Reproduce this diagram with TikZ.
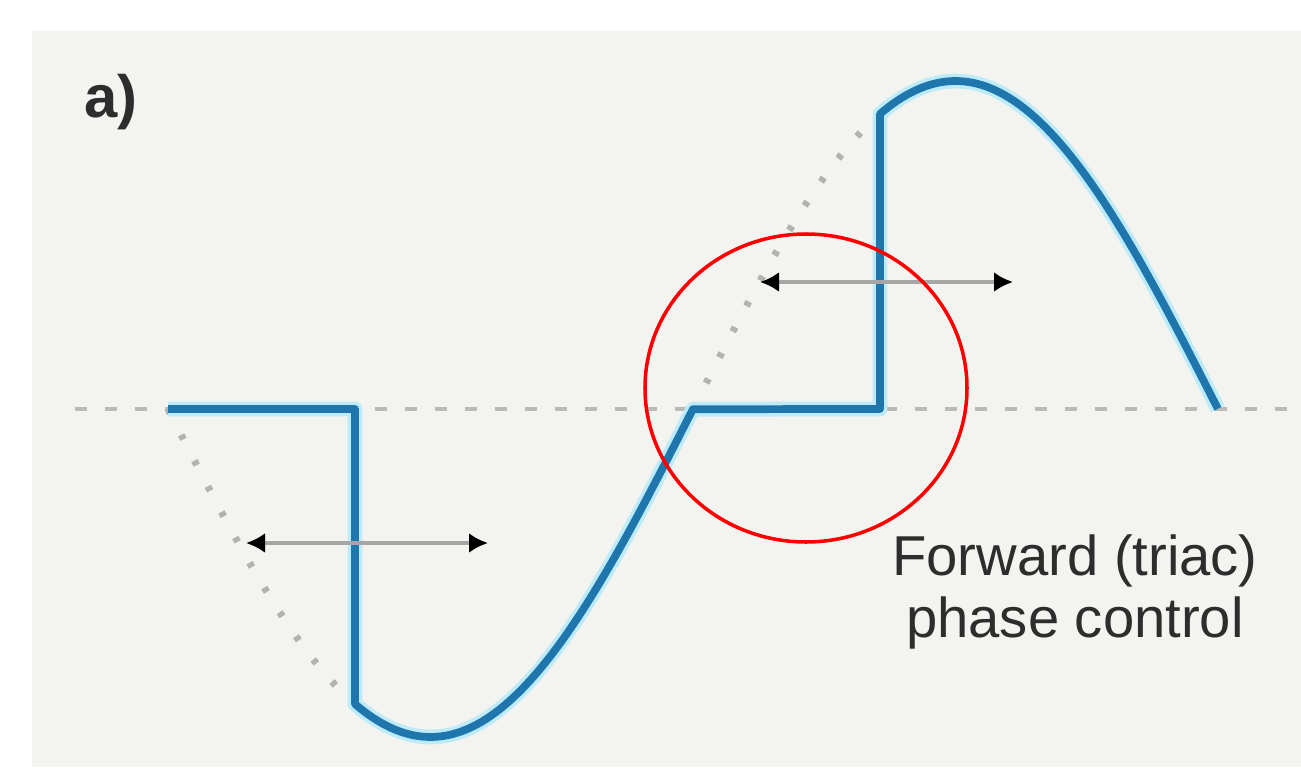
\documentclass[tikz,border=0pt]{standalone}
\usepackage{fontspec}
\setmainfont{Liberation Sans}
\usepackage{tikz}
\usetikzlibrary{arrows.meta}
\definecolor{wave}{RGB}{30,118,172}
\definecolor{halo}{RGB}{190,235,250}
\definecolor{panel}{RGB}{243,243,239}
\definecolor{ink}{RGB}{45,45,45}

\begin{document}
\begin{tikzpicture}[
  axisline/.style={gray!55,line width=1.3pt,dash pattern=on 0.12cm off 0.18cm},
  ideal/.style={gray!60,line width=2pt,dash pattern=on 0.05cm off 0.24cm},
  chopped/.style={wave,line width=2.2pt,line join=round},
  chophalo/.style={halo,line width=4.2pt,line join=round},
  span/.style={gray!70,line width=1.2pt,{Latex[black,length=0.19cm,width=0.2cm]}-{Latex[black,length=0.19cm,width=0.2cm]}},
  zone/.style={red,line width=1pt},
  caption/.style={ink,align=center,font=\fontsize{16}{17.6}\selectfont}
]
\useasboundingbox (0,0) rectangle (13.01,7.67);
\fill[panel] (0.32,0) rectangle (13.01,7.36);
% zero line
\draw[axisline] (0.75,3.58) -- (12.9,3.58);
% ideal sine where the triac is off
\draw[ideal] plot[domain=1.68:3.55,samples=40] (\x,{3.58-3.28*sin(180*(\x-1.68)/5.25)});
\draw[ideal] plot[domain=6.93:8.80,samples=40] (\x,{3.58-3.28*sin(180*(\x-1.68)/5.25)});
% chopped waveform
\foreach \s in {chophalo,chopped}
  \draw[\s] (1.68,3.58) -- (3.55,3.58)
    -- plot[domain=3.55:6.93,samples=80] (\x,{3.58-3.28*sin(180*(\x-1.68)/5.25)})
    -- (8.80,3.58)
    -- plot[domain=8.80:12.18,samples=80] (\x,{3.58-3.28*sin(180*(\x-1.68)/5.25)});
% firing delay arrows
\coordinate (lowL) at (2.46,2.24);
\coordinate (lowR) at (4.88,2.24);
\coordinate (upL) at (7.60,4.85);
\coordinate (upR) at (10.13,4.85);
\draw[span] (lowL) -- (lowR);
\draw[span] (upL) -- (upR);
\draw[zone] (8.06,3.79) ellipse[x radius=1.61,y radius=1.54];
\node[ink,anchor=base west,font=\bfseries\fontsize{17}{20}\selectfont] (tag) at (0.72,6.50) {a)};
\node[caption] (mode) at (10.75,1.75) {Forward (triac)\\phase control};
\end{tikzpicture}
\end{document}
